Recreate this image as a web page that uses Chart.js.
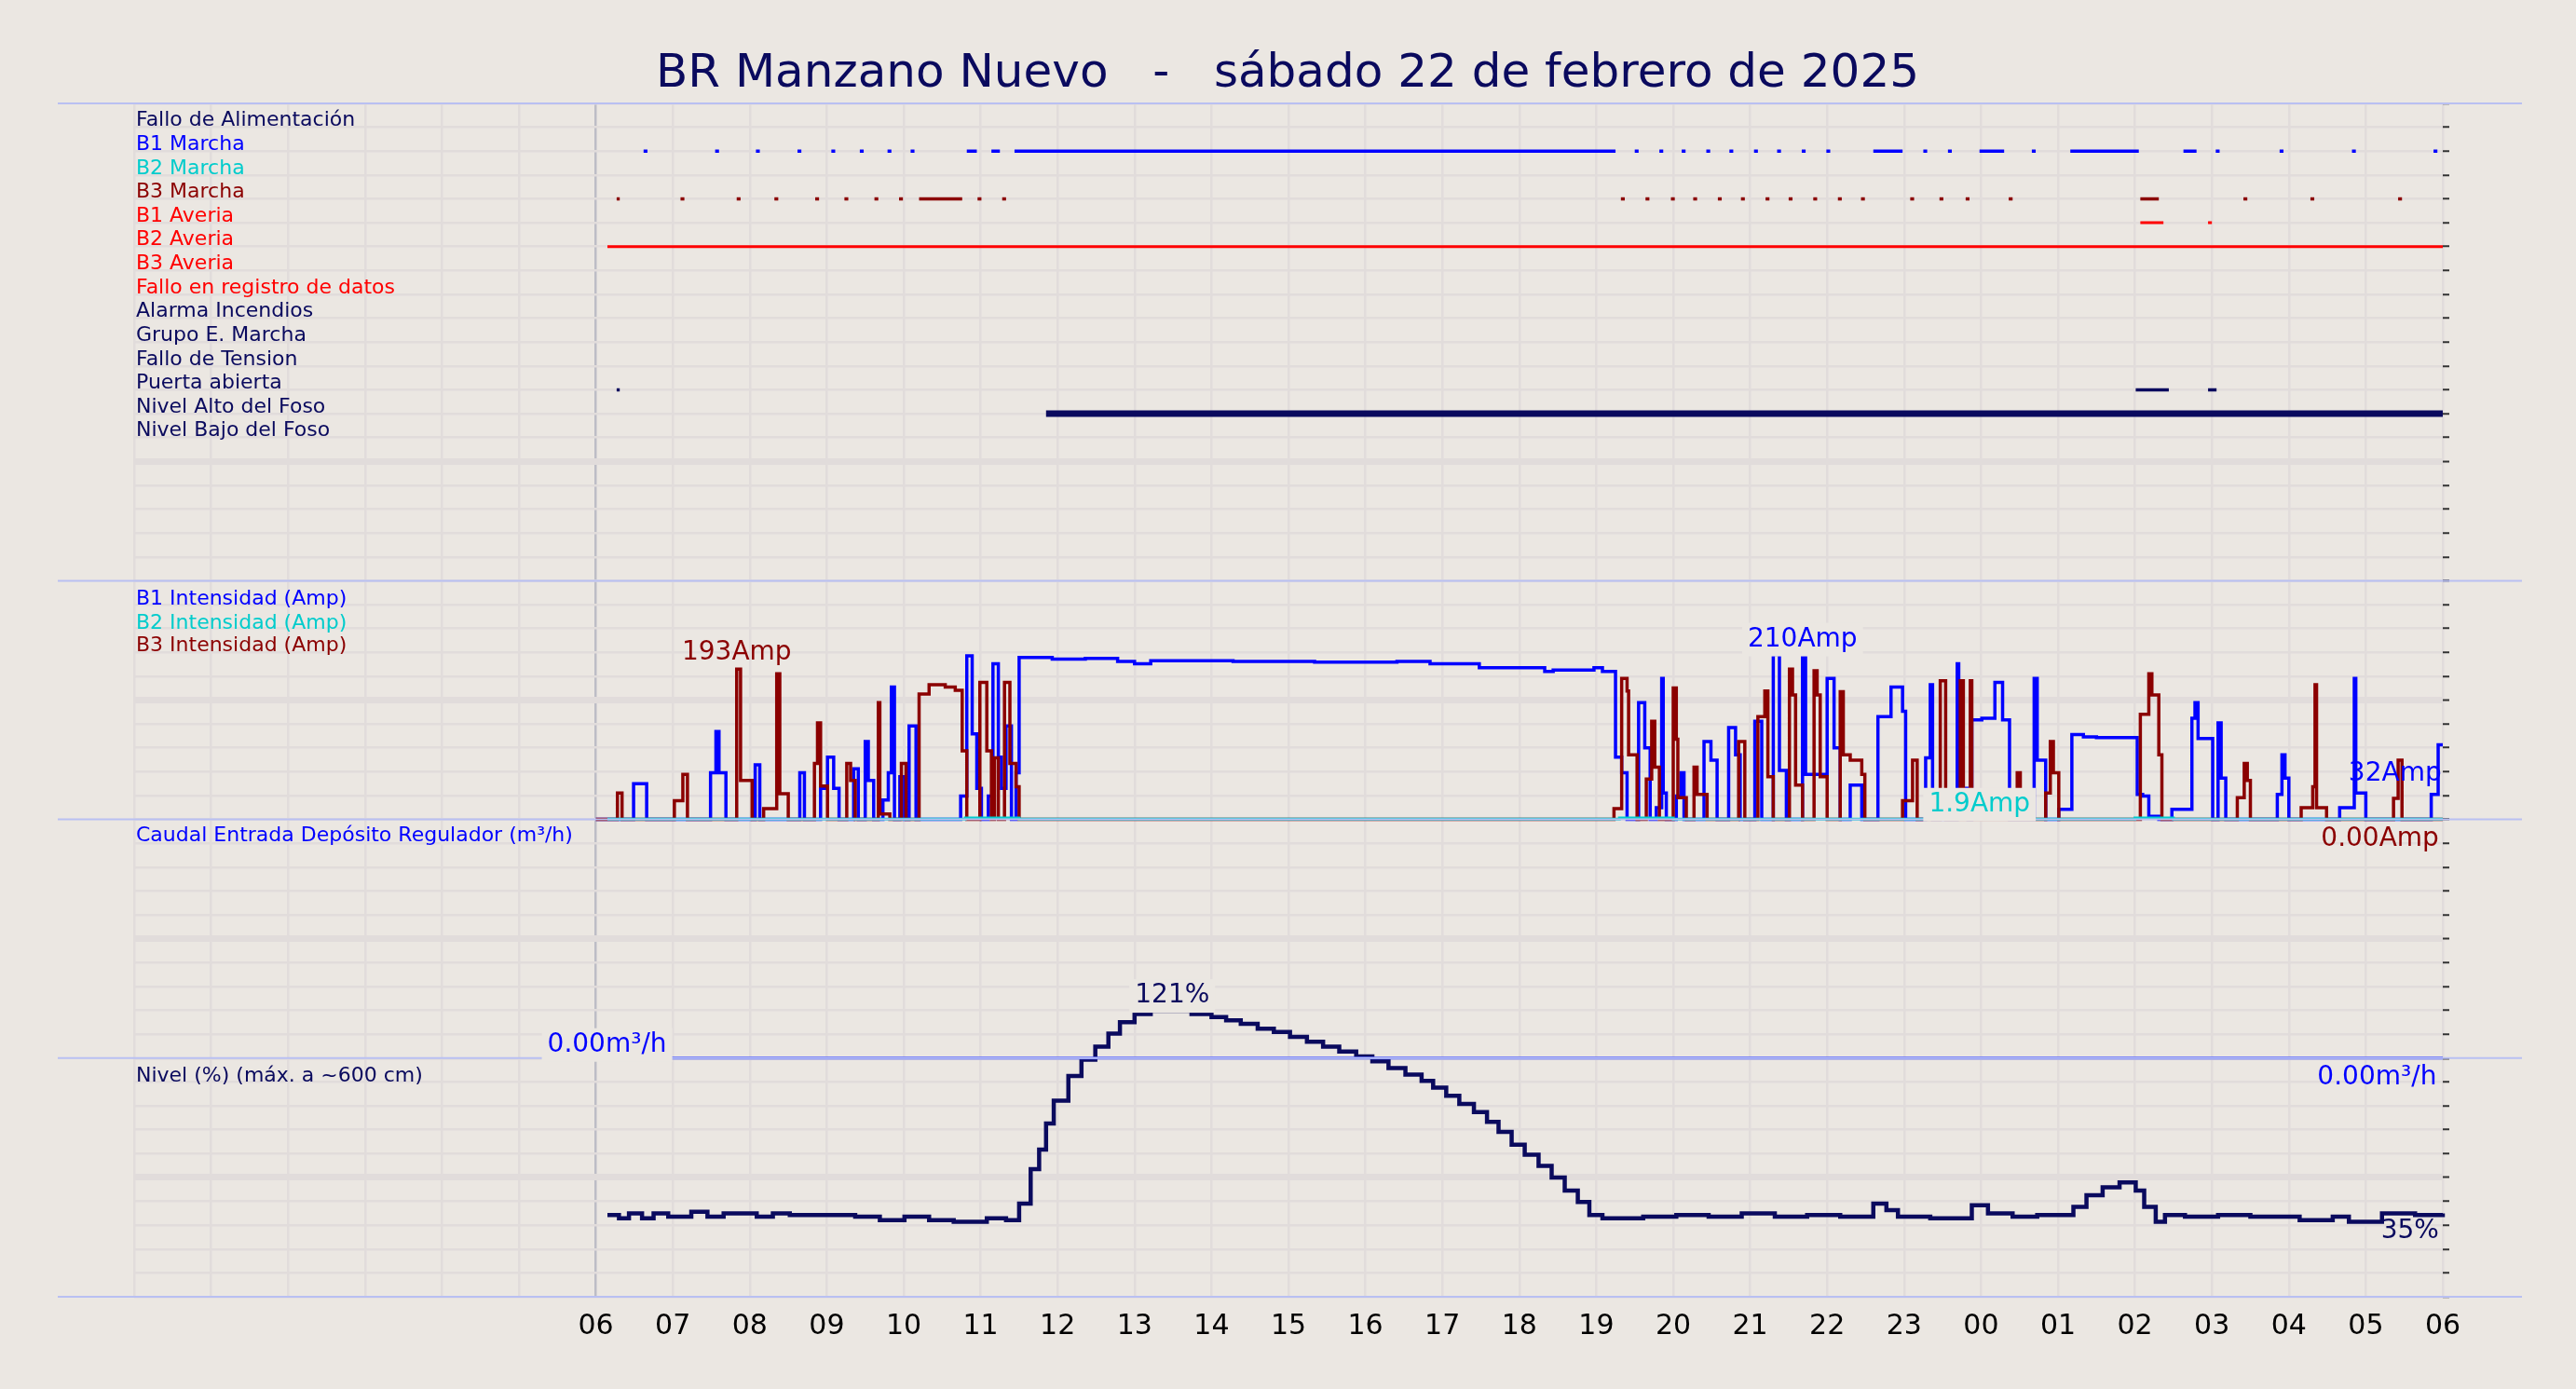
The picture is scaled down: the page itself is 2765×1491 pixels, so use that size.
<!DOCTYPE html>
<html><head><meta charset="utf-8">
<script src="https://cdn.jsdelivr.net/npm/chart.js@4"></script>
<style>html,body{margin:0;padding:0;background:#ebe7e2;}canvas{display:block;}</style>
</head><body>
<canvas id="c" width="2765" height="1491"></canvas>
<script>
const TITLE = "BR Manzano Nuevo   -   sábado 22 de febrero de 2025";
const hourLabels = ['06','07','08','09','10','11','12','13','14','15','16','17','18','19','20','21','22','23','00','01','02','03','04','05','06'];

const statusRows = ["Fallo de Alimentación","B1 Marcha","B2 Marcha","B3 Marcha","B1 Averia","B2 Averia","B3 Averia","Fallo en registro de datos","Alarma Incendios","Grupo E. Marcha","Fallo de Tension","Puerta abierta","Nivel Alto del Foso","Nivel Bajo del Foso"];
const statusColors = ["#0a0a5e","#0000ff","#00cccc","#8b0000","#ff0000","#ff0000","#ff0000","#ff0000","#0a0a5e","#0a0a5e","#0a0a5e","#0a0a5e","#0a0a5e","#0a0a5e"];

const b1Marcha = [[0.62,0.67],[1.55,1.60],[2.08,2.13],[2.62,2.67],[3.06,3.11],[3.43,3.48],[3.79,3.84],[4.09,4.14],[4.82,4.95],[5.14,5.25],[5.44,13.25],[13.50,13.55],[13.82,13.87],[14.11,14.16],[14.43,14.48],[14.73,14.78],[15.05,15.10],[15.35,15.40],[15.67,15.72],[15.99,16.04],[16.60,16.98],[17.25,17.30],[17.57,17.62],[17.98,18.30],[18.66,18.71],[19.16,20.05],[20.63,20.80],[21.05,21.10],[21.88,21.93],[22.82,22.87],[23.88,23.93]];
const b3Marcha = [[0.27,0.31],[1.10,1.15],[1.83,1.88],[2.32,2.37],[2.85,2.90],[3.23,3.28],[3.62,3.67],[3.94,3.99],[4.20,4.76],[4.96,5.01],[5.28,5.33],[13.32,13.37],[13.64,13.69],[13.97,14.02],[14.26,14.31],[14.58,14.63],[14.88,14.93],[15.20,15.25],[15.50,15.55],[15.82,15.87],[16.14,16.19],[16.44,16.49],[17.08,17.13],[17.46,17.51],[17.80,17.85],[18.36,18.41],[20.07,20.31],[21.41,21.46],[22.28,22.33],[23.42,23.47]];
const b1Averia = [[20.07,20.37],[20.95,21.00]];
const b2Averia = [[0.15,24.0]];
const puertaAbierta = [[0.27,0.31],[20.01,20.44],[20.95,21.06]];
const nivelAlto = [[5.85,24.0]];

const b1Amp = [[0,0],[0.49,46],[0.66,0],[1.49,60],[1.56,113],[1.60,60],[1.69,0],[2.07,70],[2.13,0],[2.65,60],[2.71,0],[2.92,40],[3.01,80],[3.09,40],[3.16,0],[3.35,65],[3.41,0],[3.50,100],[3.54,50],[3.61,0],[3.73,25],[3.80,60],[3.84,170],[3.88,0],[3.95,55],[4.01,0],[4.07,120],[4.16,0],[4.74,30],[4.82,210],[4.89,110],[4.95,40],[5.01,0],[5.10,30],[5.16,200],[5.23,80],[5.27,40],[5.33,120],[5.40,0],[5.46,60],[5.50,208],[5.93,206],[6.36,207],[6.78,203],[7.00,200],[7.21,204],[8.28,203],[9.34,202],[10.41,203],[10.84,200],[11.48,195],[12.33,190],[12.44,192],[12.97,195],[13.08,190],[13.25,80],[13.33,60],[13.40,0],[13.55,150],[13.63,92],[13.70,0],[13.78,15],[13.85,181],[13.87,34],[13.91,0],[14.04,30],[14.10,60],[14.14,0],[14.40,100],[14.49,76],[14.57,0],[14.72,118],[14.81,83],[14.87,0],[15.06,126],[15.15,0],[15.30,212],[15.38,63],[15.47,0],[15.68,212],[15.72,58],[16.00,181],[16.09,92],[16.17,0],[16.30,44],[16.45,0],[16.66,132],[16.83,170],[16.98,139],[17.02,0],[17.28,79],[17.34,173],[17.37,0],[17.69,200],[17.71,40],[17.83,0],[17.88,128],[18.01,130],[18.18,176],[18.28,128],[18.37,0],[18.69,181],[18.73,76],[18.84,0],[19.01,13],[19.18,109],[19.33,106],[19.50,105],[20.03,32],[20.10,30],[20.18,4],[20.31,0],[20.48,13],[20.74,130],[20.78,150],[20.82,104],[21.01,0],[21.08,124],[21.12,53],[21.18,0],[21.85,32],[21.91,83],[21.95,53],[22.00,0],[22.66,15],[22.85,181],[22.87,34],[23.00,0],[23.85,32],[23.94,96],[24.0,96]];
const b2Amp = [[0.15,0.5],[4.8,1.9],[5.5,0.5],[13.3,1.9],[14.0,0.5],[20.0,1.9],[20.5,0.5],[24.0,0.5]];
const b3Amp = [[0,0],[0.28,34],[0.34,0],[1.02,24],[1.13,58],[1.19,0],[1.83,193],[1.88,50],[2.03,0],[2.18,14],[2.35,187],[2.39,33],[2.50,0],[2.84,72],[2.88,124],[2.92,43],[3.01,0],[3.26,72],[3.31,50],[3.37,0],[3.67,150],[3.69,7],[3.82,0],[3.97,72],[4.03,0],[4.20,161],[4.33,173],[4.54,170],[4.67,166],[4.76,88],[4.82,0],[4.99,176],[5.08,88],[5.14,0],[5.18,79],[5.23,0],[5.31,176],[5.38,72],[5.46,42],[5.50,0],[13.23,14],[13.33,181],[13.40,165],[13.42,83],[13.53,0],[13.65,52],[13.72,126],[13.76,67],[13.82,0],[14.00,169],[14.04,103],[14.06,28],[14.17,0],[14.27,67],[14.31,32],[14.44,0],[14.85,100],[14.93,0],[15.10,132],[15.19,165],[15.23,55],[15.30,0],[15.51,193],[15.55,160],[15.59,44],[15.68,0],[15.83,191],[15.87,160],[15.91,55],[16.00,0],[16.17,164],[16.21,83],[16.30,76],[16.45,58],[16.49,0],[16.98,24],[17.11,76],[17.17,0],[17.47,178],[17.54,0],[17.73,178],[17.77,0],[17.86,178],[17.88,0],[18.47,60],[18.51,0],[18.84,34],[18.90,100],[18.94,60],[19.01,0],[20.07,135],[20.18,187],[20.22,160],[20.31,83],[20.35,0],[21.33,28],[21.42,72],[21.46,50],[21.50,0],[22.16,15],[22.31,42],[22.34,173],[22.36,15],[22.49,0],[23.36,27],[23.42,76],[23.47,0],[24.0,0]];

const caudal = [[0.9,0],[24.0,0]];

const nivel = [[0.15,34.7],[0.30,33.3],[0.43,35.4],[0.60,33.3],[0.75,35.4],[0.94,34.0],[1.24,36.1],[1.45,34.0],[1.66,35.4],[2.09,34.0],[2.30,35.4],[2.52,34.7],[3.37,34.0],[3.69,32.6],[4.01,34.0],[4.33,32.6],[4.65,31.9],[5.08,33.3],[5.33,32.6],[5.50,39.6],[5.65,54.2],[5.76,62.5],[5.85,73.6],[5.95,83.3],[6.14,93.8],[6.31,100.7],[6.49,106.3],[6.66,111.8],[6.81,116.7],[7.00,120.1],[7.21,121.5],[7.74,120.1],[8.00,118.8],[8.19,117.4],[8.38,116.0],[8.60,113.9],[8.81,112.5],[9.02,110.4],[9.24,108.3],[9.45,106.3],[9.66,104.2],[9.88,102.1],[10.09,100.0],[10.30,97.2],[10.52,94.4],[10.73,91.7],[10.88,88.9],[11.05,85.4],[11.22,81.9],[11.41,78.5],[11.58,74.3],[11.73,70.1],[11.90,64.6],[12.07,60.4],[12.25,55.6],[12.42,50.7],[12.59,45.1],[12.76,40.3],[12.91,34.7],[13.08,33.3],[13.61,34.0],[14.04,34.7],[14.46,34.0],[14.89,35.4],[15.32,34.0],[15.74,34.7],[16.17,34.0],[16.60,39.6],[16.77,36.8],[16.92,34.0],[17.34,33.3],[17.88,38.9],[18.09,35.4],[18.41,34.0],[18.73,34.7],[19.20,38.2],[19.37,43.1],[19.58,46.5],[19.80,48.6],[20.01,45.1],[20.12,38.2],[20.27,31.9],[20.39,34.7],[20.65,34.0],[21.08,34.7],[21.50,34.0],[22.14,32.6],[22.57,34.0],[22.78,31.9],[23.21,35.4],[23.64,34.7],[24.0,35.4]];

const statusRowValue = i => 19 - i;
function segs(arr, row){ const out=[]; arr.forEach(([a,b])=>{out.push({x:a,y:statusRowValue(row)},{x:b,y:statusRowValue(row)},{x:null,y:null});}); return out; }
const pts = arr => arr.map(([x,y])=>({x,y}));

const gridC = '#e1dcdb';
function yGrid(mid){ return {color:gridC, lineWidth:c=>c.index===mid?7:2.5, drawTicks:true, tickLength:7, tickColor:'#333', tickWidth:2, drawOnChartArea:true}; }

const overlay = {
  id:'overlay',
  afterDraw(chart){
    const ctx=chart.ctx, sc=chart.scales, x=sc.x;
    ctx.save();
    ctx.fillStyle='#0a0a5e'; ctx.font='50px "DejaVu Sans"'; ctx.textAlign='center'; ctx.textBaseline='middle';
    ctx.fillText(TITLE, 1382, 80);
    ctx.strokeStyle='#b9c0f2'; ctx.lineWidth=2;
    const ys=[sc.yS.top, sc.yA.top, sc.yC.top, sc.yN.top, sc.yN.bottom];
    ys.forEach(y=>{ctx.beginPath();ctx.moveTo(62,y);ctx.lineTo(2707,y);ctx.stroke();});
    ctx.textAlign='left'; ctx.textBaseline='middle'; ctx.font='22px "DejaVu Sans"';
    const lx = x.getPixelForValue(-6)+2;
    statusRows.forEach((t,i)=>{ctx.fillStyle=statusColors[i]; ctx.fillText(t,lx,sc.yS.getPixelForValue(statusRowValue(i))-7);});
    ctx.fillStyle='#0000ff'; ctx.fillText('B1 Intensidad (Amp)',lx,sc.yA.getPixelForValue(283));
    ctx.fillStyle='#00cccc'; ctx.fillText('B2 Intensidad (Amp)',lx,sc.yA.getPixelForValue(252));
    ctx.fillStyle='#8b0000'; ctx.fillText('B3 Intensidad (Amp)',lx,sc.yA.getPixelForValue(223));
    ctx.fillStyle='#0000ff'; ctx.fillText('Caudal Entrada Depósito Regulador (m³/h)',lx,sc.yC.getPixelForValue(9.3));
    ctx.fillStyle='#0a0a5e'; ctx.fillText('Nivel (%) (máx. a ~600 cm)',lx,sc.yN.getPixelForValue(93.5));
    function ann(t,h,yv,scale,color,align,bg){
      ctx.font='28px "DejaVu Sans"'; ctx.textAlign=align;
      const px=x.getPixelForValue(h), py=sc[scale].getPixelForValue(yv);
      if(bg){const w=ctx.measureText(t).width; const x0=align==='center'?px-w/2:(align==='right'?px-w:px); ctx.fillStyle='#ebe7e2'; ctx.fillRect(x0-6,py-18,w+12,36);}
      ctx.fillStyle=color; ctx.fillText(t,px,py);
    }
    ann('193Amp',1.83,214,'yA','#8b0000','center',false);
    ann('210Amp',15.68,231,'yA','#0000ff','center',true);
    ann('32Amp',23.38,59,'yA','#0000ff','center',false);
    ann('1.9Amp',17.98,19,'yA','#00cccc','center',true);
    ann('0.00Amp',23.95,-25,'yA','#8b0000','right',false);
    ann('0.00m³/h',0.92,0.55,'yC','#0000ff','right',true);
    ann('0.00m³/h',23.92,-0.83,'yC','#0000ff','right',false);
    ann('121%',7.49,127.8,'yN','#0a0a5e','center',true);
    ann('35%',23.95,27.8,'yN','#0a0a5e','right',false);
    ctx.restore();
  }
};

const ds = (label,data,color,yID,w,extra) => Object.assign({label,data,borderColor:color,backgroundColor:color,yAxisID:yID,borderWidth:w,pointRadius:0,fill:false,spanGaps:false,clip:false,tension:0},extra||{});

new Chart(document.getElementById('c'),{
  type:'line',
  data:{datasets:[
    ds('B1 Marcha',segs(b1Marcha,1),'#0000ff','yS',3.5),
    ds('B3 Marcha',segs(b3Marcha,3),'#8b0000','yS',3.5),
    ds('B1 Averia',segs(b1Averia,4),'#ff0000','yS',3),
    ds('B2 Averia',segs(b2Averia,5),'#ff0000','yS',3),
    ds('Puerta abierta',segs(puertaAbierta,11),'#0a0a5e','yS',3.5),
    ds('Nivel Alto del Foso',segs(nivelAlto,12),'#0a0a5e','yS',7),
    ds('B2 Intensidad',pts(b2Amp),'#00cccc','yA',3,{stepped:true}),
    ds('B3 Intensidad',pts(b3Amp),'#8b0000','yA',3.5,{stepped:true}),
    ds('B1 Intensidad',pts(b1Amp),'#0000ff','yA',3.5,{stepped:true}),
    ds('Caudal',pts(caudal),'#3a48ff','yC',3),
    ds('Nivel',pts(nivel),'#0a0a5e','yN',4.5,{stepped:true})
  ]},
  options:{
    responsive:false, animation:false, devicePixelRatio:1,
    layout:{padding:{left:144,right:136,top:111,bottom:35}},
    plugins:{legend:{display:false},tooltip:{enabled:false}},
    scales:{
      x:{type:'linear',min:-6,max:24,
         grid:{color:c=>c.tick&&c.tick.value===0?'#bdbdc6':gridC,lineWidth:2.5,drawTicks:false},
         border:{display:false},
         ticks:{stepSize:1,autoSkip:false,maxRotation:0,color:'#000',font:{size:30,family:'DejaVu Sans'},padding:14,
           callback:v=>v>=0&&v<=24?hourLabels[v]:''}},
      yS:{type:'linear',position:'right',stack:'p',stackWeight:2,min:0,max:20,border:{display:false},grid:yGrid(5),ticks:{display:false,stepSize:1}},
      yA:{type:'linear',position:'right',stack:'p',stackWeight:1,min:0,max:306.6,border:{display:false},grid:yGrid(5),ticks:{display:false,count:11}},
      yC:{type:'linear',position:'right',stack:'p',stackWeight:1,min:0,max:10,border:{display:false},grid:yGrid(5),ticks:{display:false,count:11}},
      yN:{type:'linear',position:'right',stack:'p',stackWeight:1,min:0,max:101.4,border:{display:false},grid:yGrid(5),ticks:{display:false,count:11}}
    }
  },
  plugins:[overlay]
});
</script>
</body></html>
